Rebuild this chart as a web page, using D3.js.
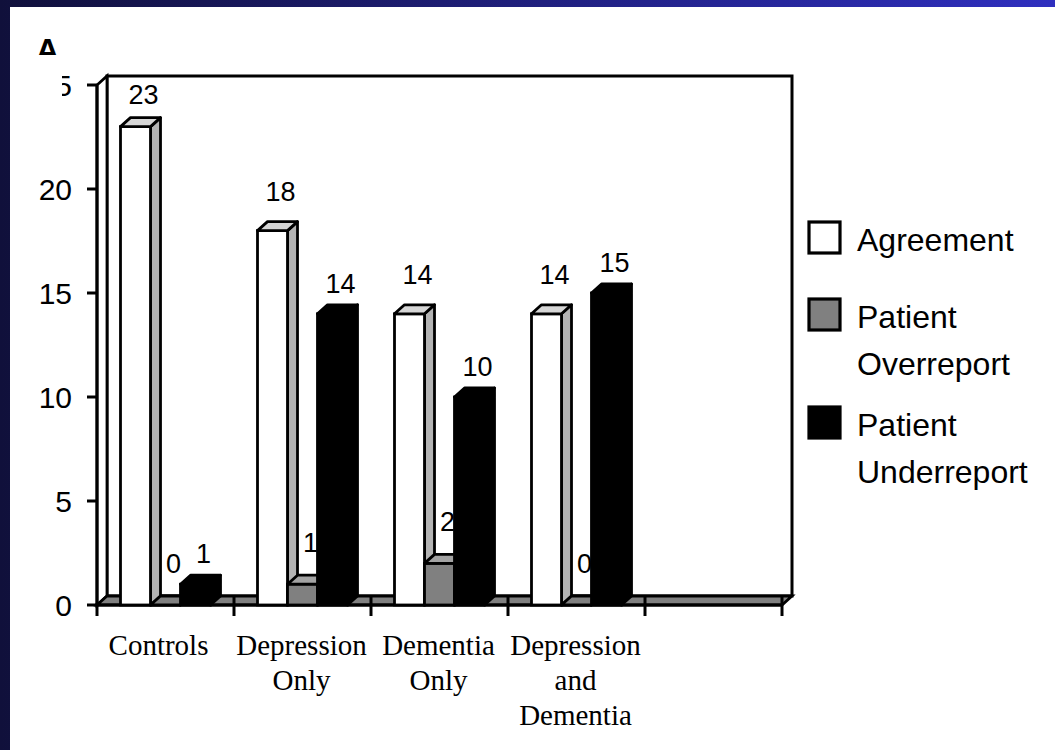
<!DOCTYPE html>
<html>
<head>
<meta charset="utf-8">
<script src="https://cdn.jsdelivr.net/npm/d3@7"></script>
<style>
  html, body { margin: 0; padding: 0; background: #fff; }
  svg { display: block; }
</style>
</head>
<body>
<svg id="chart" width="1055" height="750"></svg>
<script>
// ---- data ----
const categories = [["Controls"], ["Depression", "Only"], ["Dementia", "Only"], ["Depression", "and", "Dementia"], [""]];
const seriesNames = ["Agreement", "Patient Overreport", "Patient Underreport"];
const legendLines = [["Agreement"], ["Patient", "Overreport"], ["Patient", "Underreport"]];
const agreement   = [23, 18, 14, 14];
const overreport  = [0, 1, 2, 0];
const underreport = [1, 14, 10, 15];
const yTicks = [0, 5, 10, 15, 20, 25];
const panelLabel = "A";

const series = [agreement, overreport, underreport];

// ---- styles ----
const faceColors = [
  { front: "#ffffff", top: "#d6d6d6", side: "#b3b3b3" },
  { front: "#808080", top: "#a3a3a3", side: "#5e5e5e" },
  { front: "#000000", top: "#000000", side: "#000000" }
];
const labelRise = [30, 32, 21];
const dx = 10, dy = -9;

const svg = d3.select("#chart");
const W = 1055, H = 750;

// background
const defs = svg.append("defs");
const grad = defs.append("linearGradient").attr("id", "bg").attr("x1", "0%").attr("y1", "0%").attr("x2", "100%").attr("y2", "0%");
grad.append("stop").attr("offset", "0%").attr("stop-color", "#10103b");
grad.append("stop").attr("offset", "100%").attr("stop-color", "#2f2fbf");
svg.append("rect").attr("width", W).attr("height", H).attr("fill", "url(#bg)");
svg.append("rect").attr("x", 10).attr("y", 7).attr("width", W - 10).attr("height", H - 7).attr("fill", "#fff");

defs.append("clipPath").attr("id", "clipA").append("rect").attr("x", 0).attr("y", 0).attr("width", 200).attr("height", 55);
defs.append("clipPath").attr("id", "clipTick").append("rect").attr("x", 62).attr("y", 0).attr("width", 100).attr("height", H);

// scales
const x = d3.scaleBand().domain(d3.range(categories.length)).range([97, 782]).padding(0);
const y = d3.scaleLinear().domain([0, 25]).range([605, 85]);
const bw = x.bandwidth();
const barW = bw * 0.219;
const gap = (bw - 3 * barW) / 2;
const y0 = y(0);
const xL = x.range()[0], xR = x.range()[1];
const yTop = y(25);

const g = svg.append("g");
const stroke = "#000", sw = 2.8;

// back wall
g.append("polygon")
  .attr("points", [[xL + dx, yTop + dy], [xR + dx, yTop + dy], [xR + dx, y0 + dy], [xL + dx, y0 + dy]].map(p => p.join(",")).join(" "))
  .attr("fill", "#fff").attr("stroke", stroke).attr("stroke-width", 3);
// left wall
g.append("polygon")
  .attr("points", [[xL, y0], [xL, yTop], [xL + dx, yTop + dy], [xL + dx, y0 + dy]].map(p => p.join(",")).join(" "))
  .attr("fill", "#fff").attr("stroke", stroke).attr("stroke-width", sw);
// floor
g.append("polygon")
  .attr("points", [[xL, y0], [xR, y0], [xR + dx, y0 + dy], [xL + dx, y0 + dy]].map(p => p.join(",")).join(" "))
  .attr("fill", "#808080").attr("stroke", stroke).attr("stroke-width", sw);

// y axis ticks
g.selectAll(".ytick").data(yTicks).enter().append("line")
  .attr("x1", xL - 10).attr("x2", xL).attr("y1", d => y(d)).attr("y2", d => y(d))
  .attr("stroke", stroke).attr("stroke-width", 3);
g.append("line").attr("x1", xL).attr("x2", xL).attr("y1", yTop).attr("y2", y0 + 1.5).attr("stroke", stroke).attr("stroke-width", 3);
g.selectAll(".ylab").data(yTicks).enter().append("text")
  .attr("x", 72).attr("y", d => y(d)).attr("dy", "0.36em")
  .attr("text-anchor", "end")
  .attr("clip-path", d => d === 25 ? "url(#clipTick)" : null)
  .style("font-family", "'Liberation Sans', Arial, sans-serif").style("font-size", "30px").attr("fill", "#000")
  .text(d => d);

// x axis boundary ticks
const bounds = d3.range(categories.length + 1).map(i => xL + i * bw);
g.selectAll(".xtick").data(bounds).enter().append("line")
  .attr("x1", d => d).attr("x2", d => d).attr("y1", (d, i) => i === 0 ? y0 - 2 : y0 + dy).attr("y2", y0 + 11)
  .attr("stroke", stroke).attr("stroke-width", 3);
g.append("line").attr("x1", xL).attr("x2", xR).attr("y1", y0).attr("y2", y0).attr("stroke", stroke).attr("stroke-width", 3);

// bars
const pts = arr => arr.map(p => p.join(",")).join(" ");
const labels = [];
agreement.forEach((_, ci) => {
  series.forEach((vals, si) => {
    const v = vals[ci];
    const x0 = x(ci) + gap + si * barW;
    const x1 = x0 + barW;
    const yv = y(v);
    const c = faceColors[si];
    const bar = g.append("g");
    bar.append("polygon").attr("points", pts([[x1, yv], [x1 + dx, yv + dy], [x1 + dx, y0 + dy], [x1, y0]]))
      .attr("fill", c.side).attr("stroke", stroke).attr("stroke-width", sw).attr("stroke-linejoin", "round");
    if (v > 0) {
      bar.append("rect").attr("x", x0).attr("y", yv).attr("width", barW).attr("height", y0 - yv)
        .attr("fill", c.front).attr("stroke", stroke).attr("stroke-width", sw);
    }
    bar.append("polygon").attr("points", pts([[x0, yv], [x1, yv], [x1 + dx, yv + dy], [x0 + dx, yv + dy]]))
      .attr("fill", v > 0 ? c.top : "#808080").attr("stroke", stroke).attr("stroke-width", sw).attr("stroke-linejoin", "round");
    labels.push({ v, cx: x0 + barW / 2 + 8, by: Math.max(yv - labelRise[si], yTop + dy + 28) });
  });
});

// value labels
g.selectAll(".vlab").data(labels).enter().append("text")
  .attr("x", d => d.cx).attr("y", d => d.by).attr("text-anchor", "middle")
  .style("font-family", "'Liberation Sans', Arial, sans-serif").style("font-size", "27px").attr("fill", "#000")
  .text(d => d.v);

// category labels
categories.forEach((lines, ci) => {
  lines.forEach((t, li) => {
    g.append("text").attr("x", x(ci) + bw / 2 - (ci === 0 ? 7 : 1)).attr("y", 655 + li * 35).attr("text-anchor", "middle")
      .style("font-family", "'Liberation Serif', 'Times New Roman', serif").style("font-size", "29px").attr("fill", "#000")
      .text(t);
  });
});

// legend
const legendY = [222, 299, 407];
seriesNames.forEach((name, i) => {
  g.append("rect").attr("x", 809).attr("y", legendY[i]).attr("width", 31).attr("height", 31)
    .attr("fill", faceColors[i].front).attr("stroke", stroke).attr("stroke-width", 3.2);
  legendLines[i].forEach((t, li) => {
    g.append("text").attr("x", 857).attr("y", legendY[i] + 29 + li * 47)
      .style("font-family", "'Liberation Sans', Arial, sans-serif").style("font-size", "32px").attr("fill", "#000")
      .text(t);
  });
});

// panel label (clipped as in the source)
svg.append("text").attr("x", 47.5).attr("y", 61).attr("text-anchor", "middle")
  .attr("clip-path", "url(#clipA)")
  .style("font-family", "'Liberation Sans', Arial, sans-serif").style("font-size", "32px").style("font-weight", "bold")
  .text(panelLabel);
</script>
</body>
</html>
